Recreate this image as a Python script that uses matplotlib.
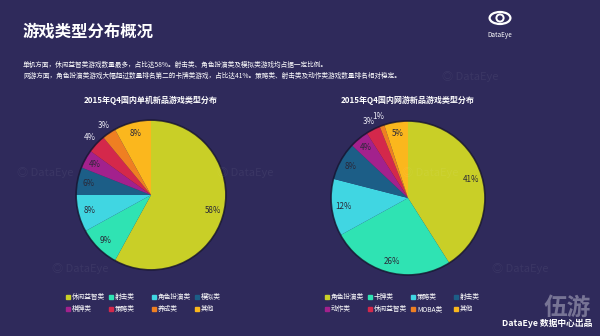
import numpy as np
import matplotlib.pyplot as plt
from matplotlib.patches import Circle, Ellipse, Rectangle

plt.rcParams['font.family'] = ['Noto Sans CJK SC', 'DejaVu Sans']

# data
single_labels = ['休闲益智类', '射击类', '角色扮演类', '模拟类', '棋牌类', '策略类', '养成类', '其他']
single_values = [58, 9, 8, 6, 4, 4, 3, 8]
online_labels = ['角色扮演类', '卡牌类', '策略类', '射击类', '动作类', '休闲益智类', 'MOBA类', '其他']
online_values = [41, 26, 12, 8, 4, 3, 1, 5]

colors = ['#c9cf27', '#2fe3b3', '#40d6e2', '#1c5e87', '#a3218d', '#d4284b', '#ef7f22', '#fbb71d']
outside = [False, False, False, False, False, True, True, False]

BG = '#2f2a5b'
W, H = 600, 336

fig = plt.figure(figsize=(6, 3.36), dpi=100, facecolor=BG)


def fx(x):
    return x / W


def fy(y):
    return 1 - y / H


# header
fig.text(fx(23), fy(32), '游戏类型分布概况', color='white', fontsize=11.8,
         fontweight='bold', va='center', ha='left')
fig.text(fx(23), fy(65), '单机方面，休闲益智类游戏数量最多，占比达58%。射击类、角色扮演类及模拟类游戏均占据一定比例。',
         color='white', fontsize=4.8, va='center', ha='left')
fig.text(fx(23), fy(76), '网游方面，角色扮演类游戏大幅超过数量排名第二的卡牌类游戏，占比达41%。策略类、射击类及动作类游戏数量排名相对稳定。',
         color='white', fontsize=4.8, va='center', ha='left')

# DataEye logo (top right)
logo = fig.add_axes([fx(488), fy(26), fx(24), 16 / H])
logo.set_xlim(-1.5, 1.5)
logo.set_ylim(-1, 1)
logo.axis('off')
logo.add_patch(Ellipse((0, 0), 2.6, 1.5, fill=False, ec='white', lw=1.6))
logo.add_patch(Circle((0, 0), 0.45, fill=False, ec='white', lw=1.4))
fig.text(fx(500), fy(35), 'DataEye', color='white', fontsize=4.6, ha='center', va='center')

# faint watermarks
for wx, wy in [(45, 173), (245, 173), (430, 173), (80, 268), (520, 268), (470, 76)]:
    fig.text(fx(wx), fy(wy), '◎ DataEye', color='white', alpha=0.06, fontsize=8,
             ha='center', va='center')


def draw_pie(cx, cy, r, values, title):
    pad = 1.3
    ax = fig.add_axes([fx(cx - r * pad), fy(cy + r * pad), 2 * r * pad / W, 2 * r * pad / H])
    ax.set_xlim(-pad, pad)
    ax.set_ylim(-pad, pad)
    ax.set_aspect('equal')
    ax.axis('off')
    wedges, _ = ax.pie(values, colors=colors, startangle=90, counterclock=False,
                       radius=1, wedgeprops=dict(linewidth=0))
    ax.add_patch(Circle((0, 0), 1.0, fill=False, ec='#15132e', lw=1.2, alpha=0.8))
    for i, (w, v) in enumerate(zip(wedges, values)):
        ang = np.deg2rad((w.theta1 + w.theta2) / 2)
        if outside[i]:
            d, c = 1.12, '#ecebf5'
        else:
            d, c = 0.85, '#2a2838'
        ax.text(d * np.cos(ang), d * np.sin(ang), f'{v}%', color=c, fontsize=5.8,
                ha='center', va='center')
    fig.text(fx(cx), fy(100), title, color='white', fontsize=5.8, fontweight='bold',
             ha='center', va='center')


draw_pie(151, 195, 72, single_values, '2015年Q4国内单机新品游戏类型分布')
draw_pie(408, 198, 74, online_values, '2015年Q4国内网游新品游戏类型分布')


def draw_legend(x0, labels):
    for i, lab in enumerate(labels):
        x = x0 + (i % 4) * 43
        y = 297 + (i // 4) * 12
        fig.patches.append(Rectangle((fx(x - 2), fy(y + 2)), 4 / W, 4 / H,
                                     transform=fig.transFigure, color=colors[i]))
        fig.text(fx(x + 4), fy(y), lab, color='white', fontsize=4.8, ha='left', va='center')


draw_legend(68, single_labels)
draw_legend(327, online_labels)

# footer branding
fig.text(fx(567), fy(308), '伍游', color='#a8a6bc', alpha=0.6, fontsize=17,
         fontweight='bold', ha='center', va='center')
fig.text(fx(547), fy(323), 'DataEye 数据中心出品', color='white', fontsize=6.3,
         fontweight='bold', ha='center', va='center')

fig.savefig('out.png', dpi=100, facecolor=BG)
